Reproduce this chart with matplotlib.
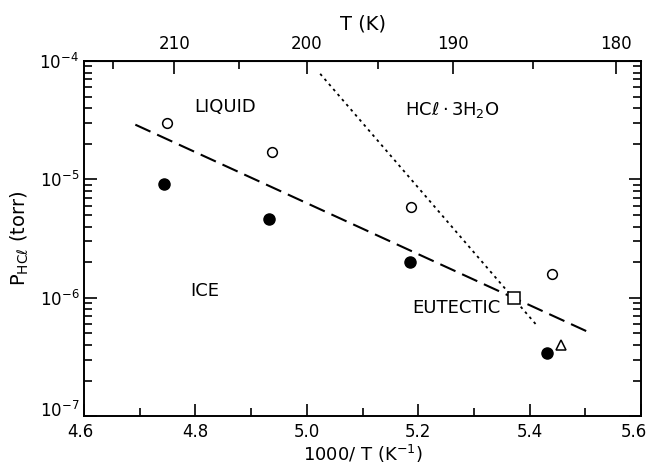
import matplotlib
matplotlib.use("Agg")
import matplotlib.pyplot as plt
import matplotlib.transforms as mtransforms
import numpy as np
from matplotlib.ticker import LogLocator, FixedLocator, NullFormatter

# data (x = 1000/T, y = P_HCl in torr)
open_x = [4.748, 4.938, 5.187, 5.441]
open_y = [3.0e-5, 1.7e-5, 5.9e-6, 1.6e-6]
filled_x = [4.744, 4.932, 5.186, 5.432]
filled_y = [9.2e-6, 4.6e-6, 2.0e-6, 3.4e-7]
eutectic_x = [5.372]
eutectic_y = [1.0e-6]
tri_x = [5.456]
tri_y = [4.0e-7]
dash_x = [4.692, 5.511]
dash_y = [2.9e-5, 5.0e-7]
dot_x = [5.024, 5.415]
dot_y = [7.8e-5, 5.7e-7]

x_ticks = [4.6, 4.8, 5.0, 5.2, 5.4, 5.6]
x_labels = ['4.6', '4.8', '5.0', '5.2', '5.4', '5.6']
y_ticks = [1e-7, 1e-6, 1e-5, 1e-4]
y_labels = [r'10$^{-7}$', r'10$^{-6}$', r'10$^{-5}$', r'10$^{-4}$']
top_major = [210, 200, 190, 180]
top_minor = [215, 205, 195, 185]

plt.rcParams['font.family'] = ['DejaVu Sans']
fig = plt.figure(figsize=(6.52, 4.66), dpi=100)
ax = fig.add_axes([0.129, 0.107, 0.854, 0.762])

ax.plot(dash_x, dash_y, color='black', lw=1.5, dashes=(8, 3.5))
ax.plot(dot_x, dot_y, color='black', lw=1.3, dashes=(1.5, 2.2))
ax.plot(open_x, open_y, 'o', ms=7, mfc='white', mec='black', mew=1.1)
ax.plot(filled_x, filled_y, 'o', ms=8, color='black')
ax.plot(eutectic_x, eutectic_y, 's', ms=8, mfc='white', mec='black', mew=1.1)
ax.plot(tri_x, tri_y, '^', ms=7, mfc='white', mec='black', mew=1.1)

ax.set_yscale('log')
ax.set_xlim(4.6, 5.6)
ax.set_ylim(1e-7, 1e-4)
ax.set_xticks(x_ticks)
ax.set_xticklabels(x_labels)
ax.set_xticks(np.arange(4.7, 5.6, 0.2), minor=True)
ax.set_yticks(y_ticks)
ax.set_yticklabels(y_labels)
ax.yaxis.set_minor_locator(LogLocator(base=10, subs=np.arange(2, 10), numticks=10))
ax.yaxis.set_minor_formatter(NullFormatter())

ax.tick_params(which='both', direction='in', top=False, right=True, labelsize=12)
ax.tick_params(axis='x', pad=5)
ax.tick_params(which='major', length=9, width=1.2)
ax.tick_params(which='minor', length=6, width=1.2)
for s in ax.spines.values():
    s.set_linewidth(1.4)

# nudge the corner labels so they do not collide or get clipped
xl = ax.get_xticklabels()
xl[-1].set_transform(xl[-1].get_transform() + mtransforms.ScaledTranslation(-5 / 72, 0, fig.dpi_scale_trans))
xl[0].set_transform(xl[0].get_transform() + mtransforms.ScaledTranslation(-3 / 72, 0, fig.dpi_scale_trans))
yl = ax.get_yticklabels()
yl[0].set_transform(yl[0].get_transform() + mtransforms.ScaledTranslation(0, 5 / 72, fig.dpi_scale_trans))

ax.set_xlabel(r'1000/ T (K$^{-1}$)', fontsize=13, labelpad=1)
ax.set_ylabel(r'P$_{\mathrm{HC}\ell}$ (torr)', fontsize=14, labelpad=6)

# top axis: temperature
sec = ax.secondary_xaxis('top', functions=(lambda x: 1000.0 / x, lambda t: 1000.0 / t))
sec.xaxis.set_major_locator(FixedLocator(top_major))
sec.xaxis.set_minor_locator(FixedLocator(top_minor))
sec.xaxis.set_minor_formatter(NullFormatter())
sec.set_xticklabels([str(t) for t in top_major])
sec.tick_params(which='both', direction='in', labelsize=12, width=1.2, pad=6)
sec.tick_params(which='major', length=9)
sec.tick_params(which='minor', length=6)
sec.set_xlabel('T (K)', fontsize=14, labelpad=4)

ax.text(4.853, 4.1e-5, 'LIQUID', fontsize=13, ha='center', va='center')
ax.text(4.817, 1.15e-6, 'ICE', fontsize=13, ha='center', va='center')
ax.text(5.262, 3.85e-5, r'HC$\ell\cdot$3H$_2$O', fontsize=13, ha='center', va='center')
ax.text(5.268, 8.2e-7, 'EUTECTIC', fontsize=13, ha='center', va='center')

fig.savefig('out.png', dpi=100)
